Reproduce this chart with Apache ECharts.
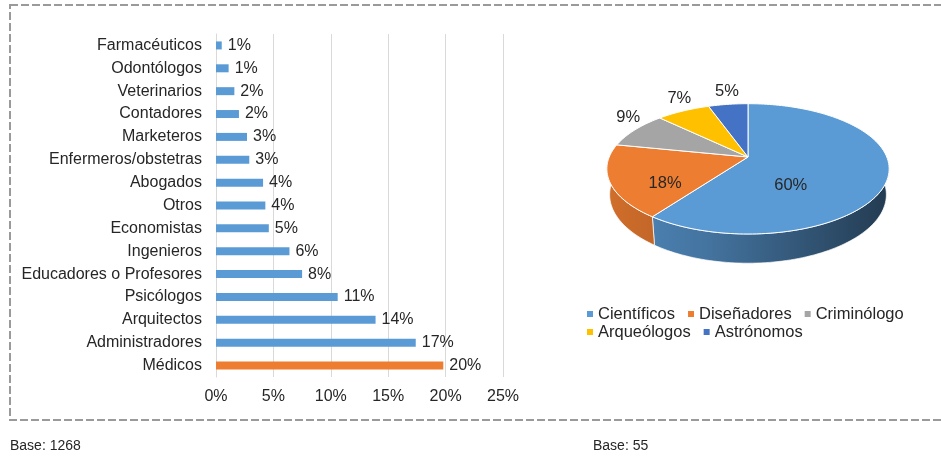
<!DOCTYPE html>
<html>
<head>
<meta charset="utf-8">
<script src="https://cdn.jsdelivr.net/npm/echarts@6.0.0/dist/echarts.min.js"></script>
<style>
  html, body { margin: 0; padding: 0; background: #fff; }
  #chart { width: 941px; height: 456px; }
</style>
</head>
<body>
<div id="chart"></div>
<script>
  // barras: profesiones (porcentaje)
  const barCategories = ['Farmacéuticos', 'Odontólogos', 'Veterinarios', 'Contadores', 'Marketeros',
    'Enfermeros/obstetras', 'Abogados', 'Otros', 'Economistas', 'Ingenieros',
    'Educadores o Profesores', 'Psicólogos', 'Arquitectos', 'Administradores', 'Médicos']
  const barValues = [0.5, 1.1, 1.6, 2.0, 2.7, 2.9, 4.1, 4.3, 4.6, 6.4, 7.5, 10.6, 13.9, 17.4, 19.8]
  const barLabels = [1, 1, 2, 2, 3, 3, 4, 4, 5, 6, 8, 11, 14, 17, 20]
  const xTicks = { min: 0, max: 25, step: 5 }

  // torta: otras profesiones
  const pieCategories = ['Científicos', 'Diseñadores', 'Criminólogo', 'Arqueólogos', 'Astrónomos']
  const pieValues = [60.0, 18.2, 9.1, 7.3, 5.4]
  const pieLabels = [60, 18, 9, 7, 5]

  const pieColors = ['#5b9bd5', '#ed7d31', '#a5a5a5', '#ffc000', '#4472c4']
  const textColor = '#262626'
  const font = "'Liberation Sans', Arial, sans-serif"

  // darker version of a colour (k = 0..1)
  function shade (color, k) {
    const c = echarts.color.parse(color)
    return 'rgb(' + c.slice(0, 3).map(v => Math.round(v * (1 - k))).join(',') + ')'
  }

  // simple perspective for the 3d pie
  const P = { cx: 748, cy: 157, f: 680, d: 4.9, tilt: 27 * Math.PI / 180, depth: 0.21, rx: 141 }
  function project (a, r, h) {
    const x = r * Math.sin(a)
    const z = r * Math.cos(a)
    const Y = z * Math.sin(P.tilt) + h * Math.cos(P.tilt)
    const Z = P.d + z * Math.cos(P.tilt) - h * Math.sin(P.tilt)
    return [P.cx + P.f * x / Z, P.cy - P.f * Y / Z]
  }
  function arc (from, to, h) {
    const pts = []
    const n = Math.max(1, Math.ceil((to - from) / (Math.PI / 120)))
    for (let j = 0; j <= n; j++) pts.push(project(from + (to - from) * j / n, 1, h))
    return pts
  }
  function centroid (pts) {
    let A = 0, x = 0, y = 0
    for (let i = 0; i < pts.length; i++) {
      const p0 = pts[i], p1 = pts[(i + 1) % pts.length]
      const c = p0[0] * p1[1] - p1[0] * p0[1]
      A += c; x += (p0[0] + p1[0]) * c; y += (p0[1] + p1[1]) * c
    }
    A = A / 2
    return [x / (6 * A), y / (6 * A)]
  }

  function renderSlice (params, api) {
    const i = params.dataIndex
    const total = pieValues.reduce((s, v) => s + v, 0)
    let before = 0
    for (let k = 0; k < i; k++) before += pieValues[k]
    const a0 = before / total * 2 * Math.PI
    const a1 = (before + api.value(0)) / total * 2 * Math.PI
    const color = pieColors[i]
    const children = []

    const lo = Math.max(a0, Math.PI / 2)
    const hi = Math.min(a1, Math.PI * 1.5)
    if (hi > lo) {
      const wall = arc(lo, hi, 0).concat(arc(lo, hi, -P.depth).reverse())
      children.push({
        type: 'polygon',
        z2: 1,
        shape: { points: wall },
        style: {
          fill: {
            type: 'linear', global: true,
            x: P.cx - P.rx, y: 0, x2: P.cx + P.rx, y2: 0,
            colorStops: [
              { offset: 0, color: shade(color, 0.12) },
              { offset: 0.35, color: shade(color, 0.25) },
              { offset: 1, color: shade(color, 0.62) }
            ]
          },
          stroke: 'rgba(255,255,255,0.7)',
          lineWidth: 1
        }
      })
    }

    const top = [project(0, 0, 0)].concat(arc(a0, a1, 0))
    children.push({
      type: 'polygon',
      z2: 10,
      shape: { points: top },
      style: { fill: color, stroke: '#fff', lineWidth: 1, lineJoin: 'round' }
    })

    let lx, ly, va
    if (api.value(0) >= 10) {
      const c = centroid(top)
      lx = c[0] + 3; ly = c[1] + 9; va = 'middle'
    } else {
      const p = project((a0 + a1) / 2, 1, 0)
      lx = p[0] + 0.06 * (p[0] - P.cx); ly = p[1] - 4; va = 'bottom'
    }
    children.push({
      type: 'text',
      z2: 20,
      style: {
        text: pieLabels[i] + '%', x: lx, y: ly,
        align: 'center', verticalAlign: va,
        fontSize: 16.5, fontFamily: font, fill: textColor
      }
    })
    return { type: 'group', children: children }
  }

  const legendBase = {
    orient: 'horizontal',
    left: 587,
    padding: 0,
    icon: 'rect',
    itemWidth: 6,
    itemHeight: 6,
    itemGap: 13,
    selectedMode: false,
    textStyle: { fontSize: 16.5, color: textColor, fontFamily: font, lineHeight: 18 }
  }

  const chart = echarts.init(document.getElementById('chart'))
  chart.setOption({
    animation: false,
    textStyle: { fontFamily: font },
    grid: { left: 216, top: 34, width: 287, height: 343, containLabel: false },
    xAxis: {
      type: 'value',
      min: xTicks.min,
      max: xTicks.max,
      interval: xTicks.step,
      axisLine: { show: false },
      axisTick: { show: false },
      splitLine: { show: true, lineStyle: { color: '#d9d9d9', width: 1 } },
      axisLabel: { formatter: '{value}%', fontSize: 16, color: textColor, margin: 12 }
    },
    yAxis: {
      type: 'category',
      inverse: true,
      data: barCategories,
      axisLine: { show: true, lineStyle: { color: '#d9d9d9' } },
      axisTick: { show: false },
      axisLabel: { fontSize: 16, color: textColor, margin: 14 }
    },
    legend: [
      Object.assign({}, legendBase, { top: 305, data: pieCategories.slice(0, 3) }),
      Object.assign({}, legendBase, { top: 323, data: pieCategories.slice(3) })
    ],
    series: [
      {
        type: 'bar',
        data: barValues,
        barWidth: 8,
        itemStyle: {
          color: p => (p.value === Math.max.apply(null, barValues) ? '#ed7d31' : '#5b9bd5')
        },
        label: {
          show: true,
          position: 'right',
          distance: 6,
          fontSize: 16,
          color: textColor,
          formatter: p => barLabels[p.dataIndex] + '%'
        },
        silent: true
      },
      {
        // only feeds the legend
        type: 'pie',
        radius: 0,
        center: [P.cx, P.cy],
        silent: true,
        z: 0,
        label: { show: false },
        labelLine: { show: false },
        itemStyle: { borderWidth: 0 },
        data: pieCategories.map((n, i) => ({ name: n, value: pieValues[i], itemStyle: { color: pieColors[i] } }))
      },
      {
        type: 'custom',
        coordinateSystem: 'none',
        silent: true,
        data: pieValues,
        renderItem: renderSlice
      }
    ],
    graphic: [
      {
        type: 'rect',
        silent: true,
        z: -1,
        shape: { x: 10, y: 5, width: 940, height: 415 },
        style: { fill: 'none', stroke: '#9a9a9a', lineWidth: 2, lineDash: [8, 3] }
      },
      {
        type: 'text', left: 10, top: 439,
        style: { text: 'Base: 1268', fontSize: 14, fontFamily: font, fill: textColor }
      },
      {
        type: 'text', left: 593, top: 439,
        style: { text: 'Base: 55', fontSize: 14, fontFamily: font, fill: textColor }
      }
    ]
  })
</script>
</body>
</html>
